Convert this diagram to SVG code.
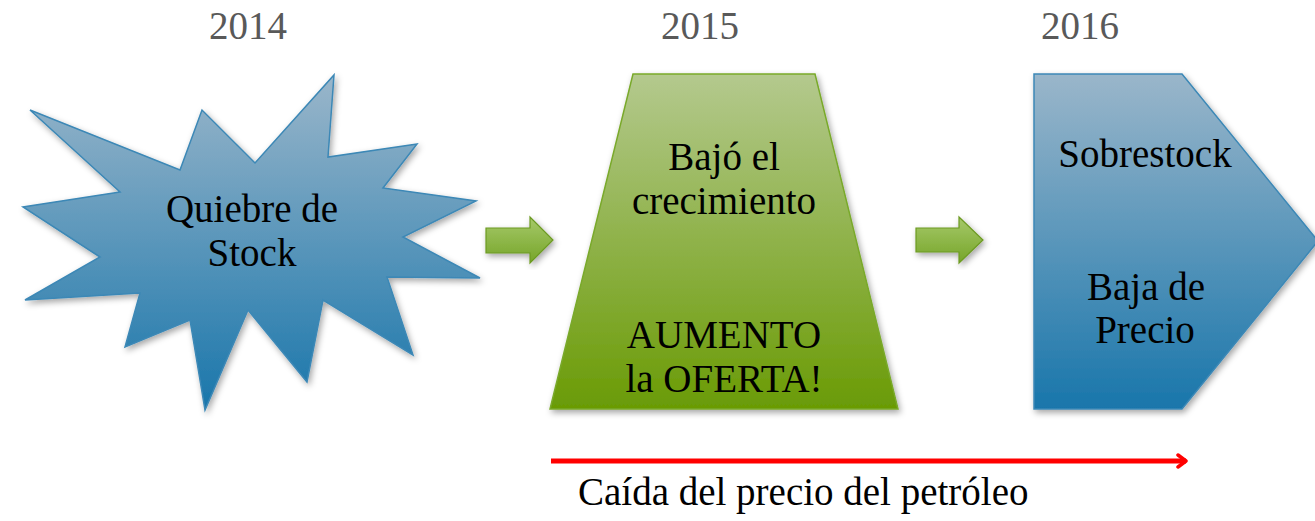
<svg xmlns="http://www.w3.org/2000/svg" width="1315" height="521" viewBox="0 0 1315 521">
<defs>
<linearGradient id="blueGrad" x1="0" y1="0" x2="0" y2="1">
<stop offset="0" stop-color="#9ab6ca"/>
<stop offset="1" stop-color="#1976ab"/>
</linearGradient>
<linearGradient id="greenGrad" x1="0" y1="0" x2="0" y2="1">
<stop offset="0" stop-color="#b4c98e"/>
<stop offset="1" stop-color="#6a9b05"/>
</linearGradient>
<linearGradient id="arrowGrad" x1="0" y1="0" x2="0" y2="1">
<stop offset="0" stop-color="#a6c96a"/>
<stop offset="1" stop-color="#76a529"/>
</linearGradient>
<filter id="shadow" x="-10%" y="-10%" width="125%" height="125%">
<feDropShadow dx="2" dy="3" stdDeviation="3" flood-color="#000" flood-opacity="0.35"/>
</filter>
<marker id="redHead" viewBox="0 0 12 16" refX="10" refY="8" markerWidth="12" markerHeight="16" markerUnits="userSpaceOnUse" orient="auto">
<path d="M2 2 L10 8 L2 14" fill="none" stroke="#ff0000" stroke-width="3.5" stroke-linecap="round" stroke-linejoin="round"/>
</marker>
<style>
.year{font-size:39px;fill:#595959;text-anchor:middle}
.lbl{font-size:39px;fill:#000;text-anchor:middle}
.blue{fill:url(#blueGrad);stroke:#3c88b6;stroke-width:1.5;filter:url(#shadow)}
.green{fill:url(#greenGrad);stroke:#79a92a;stroke-width:1.5;filter:url(#shadow)}
.garrow{fill:url(#arrowGrad);stroke:#6c9a22;stroke-width:1.2;filter:url(#shadow)}
</style>
</defs>
<rect width="1315" height="521" fill="#fff"/>

<g font-family="Liberation Serif, DejaVu Serif, serif">
<g id="years">
<text class="year" x="248" y="39">2014</text>
<text class="year" x="700" y="39">2015</text>
<text class="year" x="1080" y="39">2016</text>
</g>

<g id="node-quiebre">
<path class="blue" d="M30 110 L180 170 L202 110 L255 163 L334 75 L328 157 L417 144 L383 188 L476 201 L403 237 L480 278 L387 277 L413 355 L323 300 L307 382 L248 310 L205 410 L190 320 L125 347 L140 293 L25 300 L100 257 L23 207 L120 192 Z"/>
<text class="lbl" x="252" y="222">Quiebre de</text>
<text class="lbl" x="252" y="266">Stock</text>
</g>

<g id="node-crecimiento">
<path class="green" d="M633 74 L815 74 L898 409 L550 409 Z"/>
<text class="lbl" x="724" y="170">Bajó el</text>
<text class="lbl" x="724" y="214">crecimiento</text>
<text class="lbl" x="724" y="348">AUMENTO</text>
<text class="lbl" x="724" y="392">la OFERTA!</text>
</g>

<g id="node-sobrestock">
<path class="blue" d="M1034 74 L1182 74 L1318 241 L1182 409 L1034 409 Z"/>
<text class="lbl" x="1145" y="167">Sobrestock</text>
<text class="lbl" x="1146" y="300">Baja de</text>
<text class="lbl" x="1145" y="343">Precio</text>
</g>

<g id="connectors">
<path class="garrow" d="M486 228 L530 228 L530 217 L553 240 L530 263 L530 253 L486 253 Z"/>
<path class="garrow" d="M916 228 L959 228 L959 217 L983 240 L959 263 L959 252 L916 252 Z"/>
<line x1="551" y1="461" x2="1186" y2="461" stroke="#ff0000" stroke-width="5" marker-end="url(#redHead)"/>
</g>

<g id="caption">
<text class="lbl" x="578" y="505" text-anchor="start" style="text-anchor:start">Caída del precio del petróleo</text>
</g>
</g>
</svg>
